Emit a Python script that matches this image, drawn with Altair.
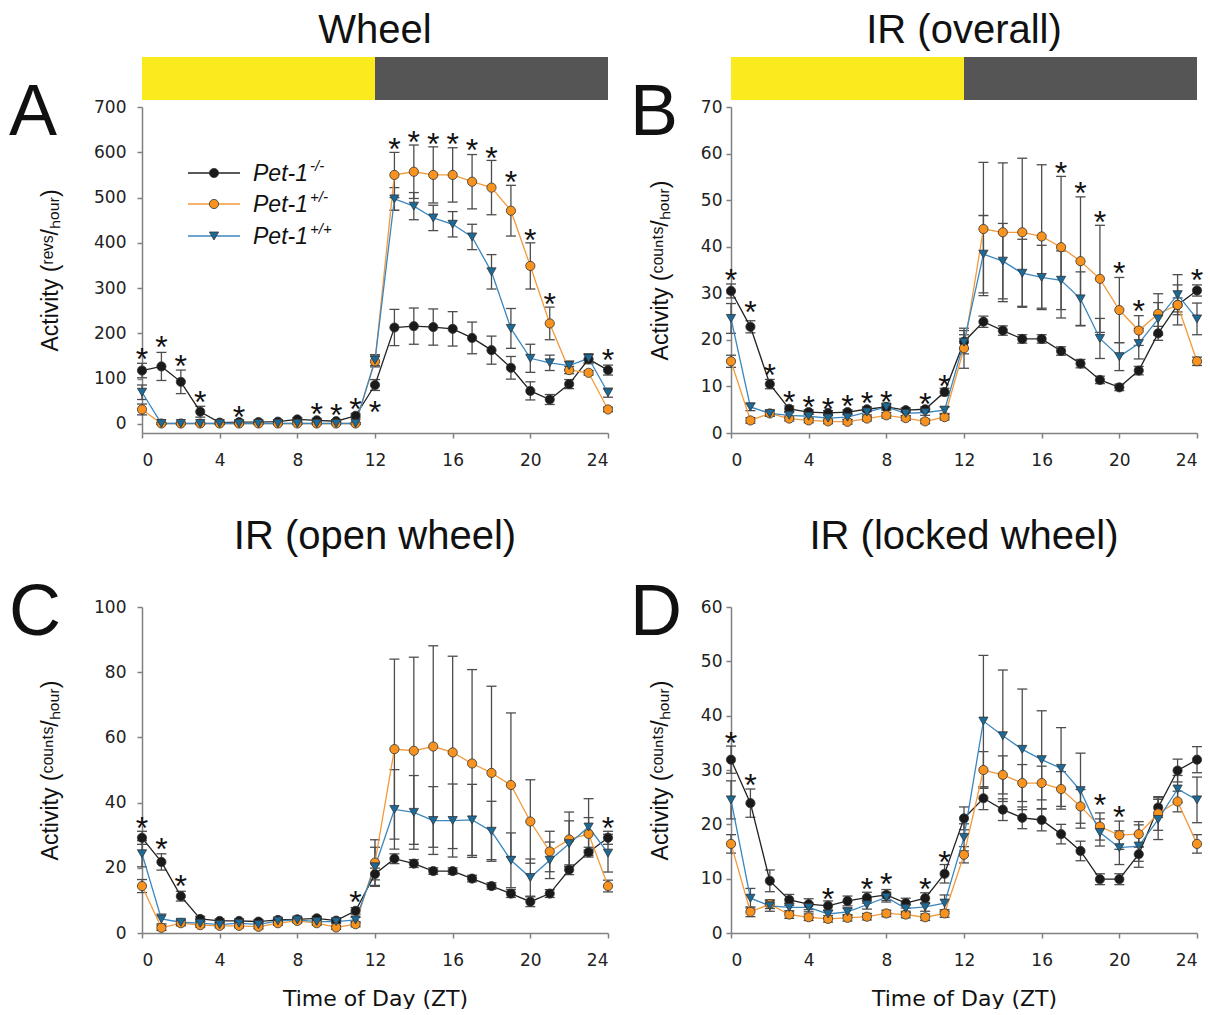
import altair as alt
import pandas as pd

# ---------------- data ----------------
ZT = list(range(25))
GROUPS = ["ko", "het", "wt"]
LEGEND_SUP = ["-/-", "+/-", "+/+"]

# Panel A: Wheel (revs/hour)
a_ko = [118, 127, 93, 27, 3, 4, 4, 5, 10, 8, 6, 18, 86, 213, 216, 214, 210, 190, 163, 124, 73, 54, 88, 143, 119]
a_ko_err = [16, 31, 26, 12, 3, 3, 3, 3, 4, 4, 3, 5, 12, 40, 40, 40, 38, 35, 31, 25, 20, 11, 10, 10, 11]
a_het = [32, 1, 1, 1, 1, 1, 1, 1, 1, 1, 1, 1, 138, 550, 557, 550, 550, 535, 522, 471, 349, 222, 119, 113, 32]
a_het_err = [12, 2, 2, 2, 2, 2, 2, 2, 2, 2, 2, 2, 12, 50, 59, 62, 60, 60, 60, 56, 51, 36, 8, 5, 5]
a_wt = [70, 1, 1, 1, 1, 1, 1, 1, 1, 1, 1, 1, 141, 497, 481, 455, 441, 413, 336, 211, 145, 135, 129, 145, 69]
a_wt_err = [16, 2, 2, 2, 2, 2, 2, 2, 2, 2, 2, 2, 12, 25, 30, 28, 28, 28, 38, 44, 31, 17, 10, 10, 10]
a_star_zt = [0, 1, 2, 3, 5, 9, 10, 11, 12, 13, 14, 15, 16, 17, 18, 19, 20, 21, 24]
a_star_y = [159, 185, 143, 64, 31, 38, 35, 49, 42, 623, 638, 634, 634, 620, 603, 550, 422, 280, 157]

# Panel B: IR (overall)
b_ko = [30.5, 22.8, 10.5, 5.2, 4.5, 4.3, 4.5, 5.1, 5.6, 4.9, 5.1, 8.8, 19.6, 23.9, 22.0, 20.2, 20.2, 17.6, 14.9, 11.4, 9.8, 13.4, 21.4, 27.5, 30.6]
b_ko_err = [1.5, 1.3, 1.0, 0.6, 0.5, 0.5, 0.5, 0.5, 0.5, 0.5, 0.5, 0.8, 1.5, 1.2, 1.0, 0.9, 0.9, 0.9, 0.9, 0.8, 0.7, 0.9, 1.5, 1.5, 1.2]
b_het = [15.4, 2.7, 4.2, 3.1, 2.7, 2.5, 2.4, 3.1, 3.8, 3.2, 2.5, 3.4, 18.2, 43.8, 43.1, 43.1, 42.2, 39.9, 36.9, 33.1, 26.4, 22.0, 25.6, 27.5, 15.4]
b_het_err = [1.3, 0.6, 0.6, 0.5, 0.5, 0.5, 0.5, 0.5, 0.6, 0.5, 0.5, 0.6, 4.3, 14.3, 14.9, 15.9, 15.4, 15.2, 13.8, 11.5, 7.0, 3.2, 4.3, 4.3, 0.9]
b_wt = [24.6, 5.6, 4.2, 3.8, 3.6, 3.2, 3.4, 4.5, 5.6, 4.2, 4.4, 4.9, 19.5, 38.4, 36.9, 34.3, 33.4, 32.8, 28.8, 20.3, 16.4, 19.2, 24.5, 29.7, 24.5]
b_wt_err = [3.2, 0.8, 0.6, 0.6, 0.5, 0.5, 0.5, 0.6, 0.7, 0.5, 0.6, 0.7, 2.5, 8.3, 8.1, 7.3, 6.9, 6.3, 5.8, 4.3, 3.0, 3.3, 3.5, 4.3, 3.4]
b_star_zt = [0, 1, 2, 3, 4, 5, 6, 7, 8, 10, 11, 17, 18, 19, 20, 21, 24]
b_star_y = [34.3, 27.4, 13.9, 8.1, 7.0, 6.7, 7.2, 8.0, 8.1, 7.8, 11.6, 57.3, 53.0, 46.9, 35.8, 27.7, 34.3]

# Panel C: IR (open wheel)
c_ko = [29.2, 21.8, 11.3, 4.3, 3.7, 3.7, 3.5, 4.0, 4.2, 4.5, 3.8, 6.8, 18.1, 22.8, 21.3, 19.0, 19.0, 16.7, 14.4, 12.1, 9.6, 12.1, 19.4, 24.8, 29.2]
c_ko_err = [2.0, 2.5, 1.5, 0.8, 0.6, 0.6, 0.6, 0.6, 0.6, 0.6, 0.6, 1.0, 1.8, 1.5, 1.2, 1.0, 1.0, 1.0, 1.0, 1.2, 1.5, 1.2, 1.5, 1.5, 2.0]
c_het = [14.4, 1.6, 3.0, 2.4, 2.2, 2.2, 1.9, 3.0, 3.7, 3.0, 1.7, 2.7, 21.6, 56.4, 55.9, 57.2, 55.4, 52.0, 49.1, 45.4, 34.2, 25.0, 28.7, 30.4, 14.4]
c_het_err = [2.0, 0.8, 0.8, 0.6, 0.6, 0.6, 0.6, 0.6, 0.6, 0.6, 0.6, 0.8, 7.0, 27.6, 28.7, 30.9, 29.5, 28.8, 26.6, 22.1, 12.8, 6.2, 8.4, 5.0, 1.8]
c_wt = [24.3, 4.3, 3.3, 3.0, 2.6, 3.0, 2.6, 3.7, 4.0, 3.5, 3.5, 4.0, 20.3, 37.9, 37.0, 34.5, 34.5, 34.7, 31.2, 22.3, 17.0, 22.3, 27.4, 32.5, 24.5]
c_wt_err = [4.0, 1.5, 0.8, 0.6, 0.6, 0.6, 0.6, 0.6, 0.6, 0.6, 0.6, 0.8, 6.0, 12.2, 11.3, 10.4, 11.2, 10.9, 9.2, 8.4, 5.7, 5.6, 7.0, 8.7, 5.8]
c_star_zt = [0, 1, 2, 11, 24]
c_star_y = [34.5, 27.9, 16.7, 11.6, 34.5]

# Panel D: IR (locked wheel)
d_ko = [31.9, 23.9, 9.6, 6.1, 5.3, 5.0, 5.9, 6.5, 7.0, 5.5, 6.4, 10.9, 21.1, 24.8, 22.7, 21.2, 20.8, 18.2, 15.1, 9.9, 9.9, 14.5, 23.1, 29.9, 31.9]
d_ko_err = [2.5, 2.6, 2.0, 1.0, 1.0, 0.9, 0.9, 1.0, 1.0, 0.9, 1.0, 1.7, 2.1, 2.1, 2.0, 2.0, 2.0, 1.8, 1.8, 1.0, 1.0, 1.3, 1.8, 2.1, 2.4]
d_het = [16.4, 3.9, 5.3, 3.4, 2.9, 2.6, 2.8, 3.0, 3.6, 3.4, 2.9, 3.6, 14.4, 30.0, 29.1, 27.6, 27.6, 26.5, 23.3, 19.6, 18.0, 18.2, 22.0, 24.2, 16.4]
d_het_err = [1.7, 0.9, 0.8, 0.7, 0.6, 0.6, 0.6, 0.6, 0.6, 0.6, 0.6, 0.7, 1.5, 3.4, 3.5, 3.4, 3.1, 3.2, 3.1, 2.5, 2.6, 2.3, 3.1, 1.9, 1.7]
d_wt = [24.5, 6.4, 5.0, 4.7, 4.7, 3.5, 3.9, 5.2, 6.6, 4.5, 4.8, 5.5, 17.6, 39.0, 36.3, 33.8, 31.9, 30.3, 26.2, 18.5, 15.7, 16.0, 20.9, 26.5, 24.5]
d_wt_err = [3.5, 1.8, 1.0, 0.8, 0.8, 0.7, 0.7, 0.8, 0.9, 0.7, 0.8, 1.5, 2.5, 12.1, 12.1, 11.1, 9.0, 7.5, 6.9, 2.5, 3.1, 3.9, 3.7, 2.5, 4.2]
d_star_zt = [0, 1, 5, 7, 8, 10, 11, 19, 20]
d_star_y = [36.2, 28.5, 7.6, 9.4, 10.3, 9.4, 14.4, 24.8, 22.7]

LIGHT_START, LIGHT_END = [0], [12]
DARK_START, DARK_END = [12], [24]

# ---------------- style ----------------
FONT = "Liberation Sans"
TICK_FONT = "DejaVu Sans"
W, H = 466, 326
LINE_COLORS = ["#222222", "#F39A3C", "#3A87BF"]
FILL_COLORS = ["#1a1a1a", "#F7931E", "#1B6A97"]
SHAPES = ["circle", "circle", "triangle-down"]
AXIS_GRAY = "#808080"
ERR_GRAY = "#4d4d4d"


def make_df(series):
    rows = []
    for g, (vals, errs) in zip(GROUPS, series):
        for z, v, e in zip(ZT, vals, errs):
            rows.append({"zt": z, "v": v, "lo": v - e, "hi": v + e, "g": g})
    return pd.DataFrame(rows)


def one_row():
    return pd.DataFrame({"k": [0]})


def panel(letter, title, ytitle, ydom, yticks, series, star_zt, star_y,
          ytitle_x, label_pad, bottom, letter_x, bar, legend, anchor, title_y):
    df = make_df(series)
    xscale = alt.Scale(domain=[0, 24], nice=False, zero=False)
    yscale = alt.Scale(domain=ydom, nice=False, zero=False)
    xax = dict(values=[0, 4, 8, 12, 16, 20, 24], labelFontSize=17, labelFont=TICK_FONT,
               labelColor="#222222", tickSize=5, tickColor=AXIS_GRAY, tickWidth=1.5,
               domainColor=AXIS_GRAY, domainWidth=1.5, labelPadding=14, grid=False)
    if bottom:
        xax.update(title="Time of Day (ZT)", titleFontSize=22, titleFont=TICK_FONT,
                   titleFontWeight="normal", titleColor="#111111", titleY=72,
                   titleBaseline="alphabetic")
    else:
        xax.update(title=None)
    yax = dict(values=yticks, labelFontSize=17, labelFont=TICK_FONT, labelColor="#222222",
               tickSize=5, tickColor=AXIS_GRAY, tickWidth=1.5, domainColor=AXIS_GRAY,
               domainWidth=1.5, labelPadding=label_pad, grid=False, title=ytitle,
               titleFontSize=23, titleFont=FONT, titleFontWeight="normal",
               titleColor="#111111", titleX=ytitle_x, titleBaseline="alphabetic",
               titleAngle=270)

    def X(f):
        return alt.X(f"{f}:Q", scale=xscale, axis=alt.Axis(**xax))

    def Y(f):
        return alt.Y(f"{f}:Q", scale=yscale, axis=alt.Axis(**yax))

    layers = []
    if bar:
        for st, en, col in [(LIGHT_START, LIGHT_END, "#FBEA1E"), (DARK_START, DARK_END, "#555555")]:
            bdf = pd.DataFrame({"zt": st, "zt_end": en})
            layers.append(
                alt.Chart(bdf).mark_rect(color=col).encode(
                    x=X("zt"), x2="zt_end:Q",
                    y=alt.value(-50), y2=alt.value(-7),
                )
            )
    base = alt.Chart(df)
    layers.append(base.mark_rule(color=ERR_GRAY, strokeWidth=1.3).encode(x=X("zt"), y=Y("lo"), y2="hi:Q"))
    layers.append(base.mark_tick(color=ERR_GRAY, orient="horizontal", size=10, thickness=1.3, opacity=1).encode(x=X("zt"), y=Y("lo")))
    layers.append(base.mark_tick(color=ERR_GRAY, orient="horizontal", size=10, thickness=1.3, opacity=1).encode(x=X("zt"), y=Y("hi")))
    layers.append(base.mark_line(strokeWidth=1.3).encode(
        x=X("zt"), y=Y("v"),
        color=alt.Color("g:N", scale=alt.Scale(domain=GROUPS, range=LINE_COLORS), legend=None)))
    layers.append(base.mark_point(filled=True, size=85, opacity=1, strokeWidth=0.8).encode(
        x=X("zt"), y=Y("v"),
        fill=alt.Fill("g:N", scale=alt.Scale(domain=GROUPS, range=FILL_COLORS), legend=None),
        shape=alt.Shape("g:N", scale=alt.Scale(domain=GROUPS, range=SHAPES), legend=None),
        stroke=alt.value("#333333")))
    sdf = pd.DataFrame({"zt": star_zt, "sy": star_y})
    layers.append(alt.Chart(sdf).mark_text(text="*", font=FONT, fontSize=32, color="#111111",
                                            baseline="alphabetic", dy=18).encode(x=X("zt"), y=Y("sy")))
    layers.append(alt.Chart(one_row()).mark_text(text=title, font=FONT, fontSize=40, color="#111111",
                                                 align="center", baseline="alphabetic").encode(
        x=alt.value(W / 2), y=alt.value(title_y)))
    layers.append(alt.Chart(one_row()).mark_text(text=letter, font=FONT, fontSize=72, color="#111111",
                                                 align="left", baseline="alphabetic").encode(
        x=alt.value(letter_x), y=alt.value(28)))
    if legend:
        rows_y = [66, 97, 129]
        for i, g in enumerate(GROUPS):
            yy = rows_y[i]
            layers.append(alt.Chart(one_row()).mark_rule(color=LINE_COLORS[i], strokeWidth=1.3).encode(
                x=alt.value(46), x2=alt.value(98), y=alt.value(yy)))
            layers.append(alt.Chart(one_row()).mark_point(filled=True, size=85, opacity=1, strokeWidth=0.8).encode(
                x=alt.value(72), y=alt.value(yy), fill=alt.value(FILL_COLORS[i]),
                shape=alt.value(SHAPES[i]), stroke=alt.value("#333333")))
            layers.append(alt.Chart(one_row()).mark_text(text="Pet-1", font=FONT, fontSize=23, fontStyle="italic",
                                                         color="#111111", align="left", baseline="alphabetic").encode(
                x=alt.value(111), y=alt.value(yy + 8)))
            layers.append(alt.Chart(one_row()).mark_text(text=LEGEND_SUP[i], font=FONT, fontSize=15, fontStyle="italic",
                                                         color="#111111", align="left", baseline="alphabetic").encode(
                x=alt.value(168), y=alt.value(yy - 2)))
    if anchor:
        layers.append(alt.Chart(one_row()).mark_rect(opacity=0).encode(
            x=alt.value(-142), x2=alt.value(-141), y=alt.value(-107), y2=alt.value(-106)))
    return alt.layer(*layers).properties(width=W, height=H)


REVS = "Activity (\u02b3\u1d49\u1d5b\u02e2/\u2095\u2092\u1d64\u1d63)"
COUNTS = "Activity (\u1d9c\u1d52\u1d58\u207f\u1d57\u02e2/\u2095\u2092\u1d64\u1d63)"

pA = panel("A", "Wheel", REVS, [-20, 700], list(range(0, 701, 100)),
           [(a_ko, a_ko_err), (a_het, a_het_err), (a_wt, a_wt_err)], a_star_zt, a_star_y,
           ytitle_x=-85, label_pad=11, bottom=False, letter_x=-133, bar=True, legend=True, anchor=True, title_y=-64)
pB = panel("B", "IR (overall)", COUNTS, [0, 70], list(range(0, 71, 10)),
           [(b_ko, b_ko_err), (b_het, b_het_err), (b_wt, b_wt_err)], b_star_zt, b_star_y,
           ytitle_x=-64, label_pad=4, bottom=False, letter_x=-101, bar=True, legend=False, anchor=False, title_y=-64)
pC = panel("C", "IR (open wheel)", COUNTS, [0, 100], list(range(0, 101, 20)),
           [(c_ko, c_ko_err), (c_het, c_het_err), (c_wt, c_wt_err)], c_star_zt, c_star_y,
           ytitle_x=-85, label_pad=11, bottom=True, letter_x=-133, bar=False, legend=False, anchor=False, title_y=-58)
pD = panel("D", "IR (locked wheel)", COUNTS, [0, 60], list(range(0, 61, 10)),
           [(d_ko, d_ko_err), (d_het, d_het_err), (d_wt, d_wt_err)], d_star_zt, d_star_y,
           ytitle_x=-64, label_pad=4, bottom=True, letter_x=-101, bar=False, legend=False, anchor=False, title_y=-58)

chart = alt.concat(pA, pB, pC, pD, columns=2, spacing=alt.RowColnumber(row=174, column=123),
                   bounds="flush").configure_view(strokeWidth=0).properties(padding=0, background="white")

chart.save("out.html", embed_options={"renderer": "svg", "actions": False})
